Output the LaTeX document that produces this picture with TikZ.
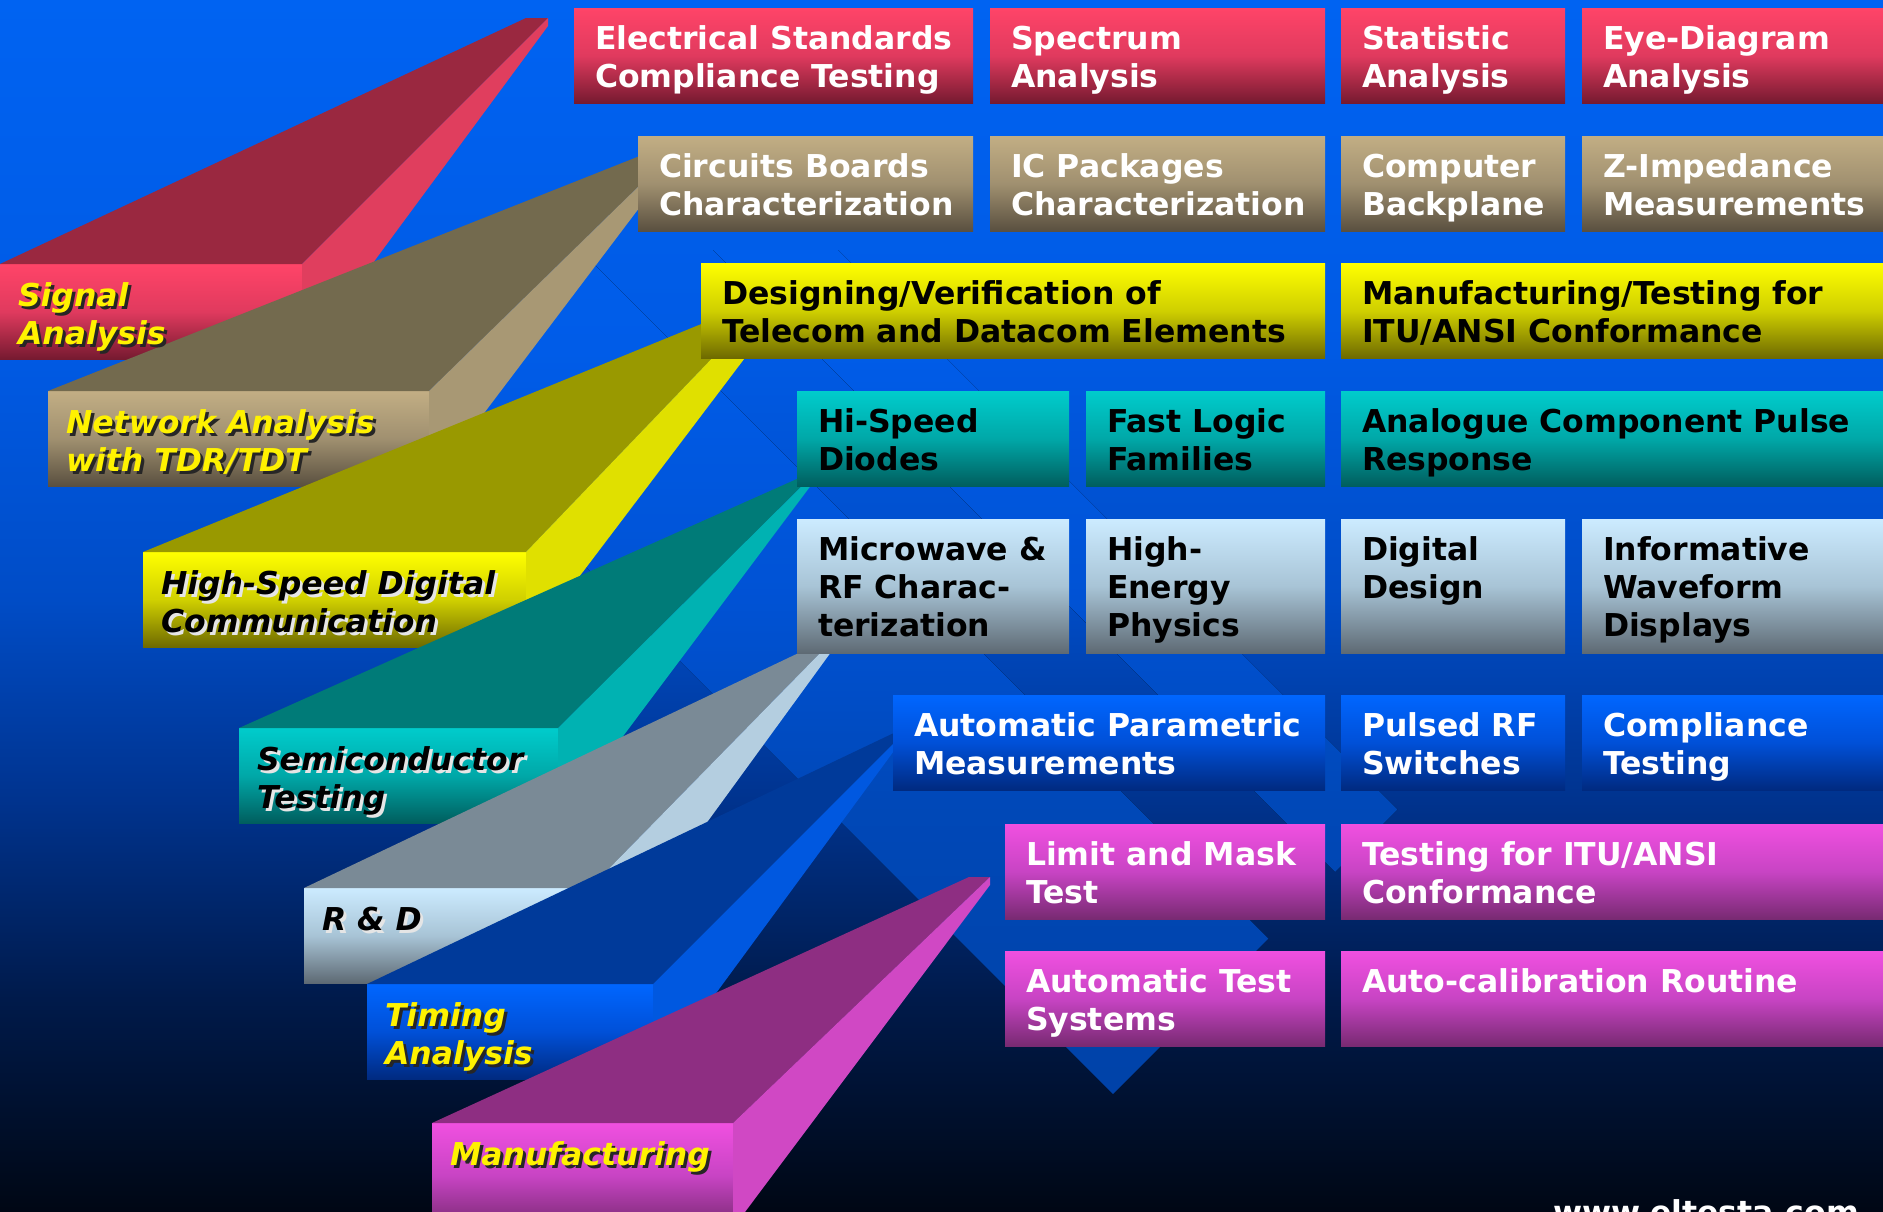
\documentclass[tikz,border=0pt]{standalone}
\usepackage{fontspec}
\setmainfont{DejaVu Sans}
\newcommand\tl[1]{\vtop{\halign{##\hfil\cr#1\crcr}}}
\definecolor{bgA}{HTML}{0063F2}
\definecolor{bgB}{HTML}{005AE4}
\definecolor{bgC}{HTML}{004CC6}
\definecolor{bgD}{HTML}{00338E}
\definecolor{bgE}{HTML}{001A4A}
\definecolor{bgF}{HTML}{000714}
\definecolor{stA}{HTML}{0063F2}
\definecolor{stB}{HTML}{005CE8}
\definecolor{stC}{HTML}{0052D4}
\definecolor{stD}{HTML}{0048B8}
\definecolor{stE}{HTML}{0044AC}
\definecolor{stF}{HTML}{0040A4}
\definecolor{redT}{HTML}{FF4468}\definecolor{redM}{HTML}{E03A5E}\definecolor{redB}{HTML}{761A30}
\definecolor{redTop}{HTML}{9A2840}\definecolor{redSide}{HTML}{E03E5E}
\definecolor{tanT}{HTML}{C2AE84}\definecolor{tanM}{HTML}{A09070}\definecolor{tanB}{HTML}{5A5040}
\definecolor{tanTop}{HTML}{736A4E}\definecolor{tanSide}{HTML}{A89874}
\definecolor{yelT}{HTML}{FFFF00}\definecolor{yelM}{HTML}{D0D000}\definecolor{yelB}{HTML}{6E6A00}
\definecolor{yelTop}{HTML}{999900}\definecolor{yelSide}{HTML}{E0E000}
\definecolor{tealT}{HTML}{00CCCC}\definecolor{tealM}{HTML}{00A8A8}\definecolor{tealB}{HTML}{005E5E}
\definecolor{tealTop}{HTML}{007B78}\definecolor{tealSide}{HTML}{00B2B2}
\definecolor{lbT}{HTML}{CCEBFF}\definecolor{lbM}{HTML}{A8C4D6}\definecolor{lbB}{HTML}{5E6A74}
\definecolor{lbTop}{HTML}{7A8A96}\definecolor{lbSide}{HTML}{B4CEE0}
\definecolor{blT}{HTML}{0066FF}\definecolor{blM}{HTML}{0050D8}\definecolor{blB}{HTML}{002A80}
\definecolor{blTop}{HTML}{003A9A}\definecolor{blSide}{HTML}{0058E0}
\definecolor{mgT}{HTML}{F050E0}\definecolor{mgM}{HTML}{C844C4}\definecolor{mgB}{HTML}{782A72}
\definecolor{mgTop}{HTML}{8E2E82}\definecolor{mgSide}{HTML}{D048C4}
\begin{document}
\begin{tikzpicture}[x=1pt,y=-1pt,
  box/.style={inner sep=0pt, outer sep=0pt, anchor=north west},
  redbox/.style={top color=redT, bottom color=redB, middle color=redM},
  tanbox/.style={top color=tanT, bottom color=tanB, middle color=tanM},
  yelbox/.style={top color=yelT, bottom color=yelB, middle color=yelM},
  tealbox/.style={top color=tealT, bottom color=tealB, middle color=tealM},
  lbbox/.style={top color=lbT, bottom color=lbB, middle color=lbM},
  blbox/.style={top color=blT, bottom color=blB, middle color=blM},
  mgbox/.style={top color=mgT, bottom color=mgB, middle color=mgM},
  rtxt/.style={inner sep=0pt, outer sep=0pt, anchor=base west, font=\fontsize{31.5}{38.4}\selectfont\bfseries},
  ltxt/.style={inner sep=0pt, outer sep=0pt, anchor=base west, font=\fontsize{31.5}{38.4}\selectfont\bfseries\itshape},
]
\newcommand\rbox[8]{%
  \node[box, #6, minimum width=#4-#2, minimum height=#5-#3] (#1) at (#2,#3) {};
  \node[rtxt, text=#7] (#1t) at ([shift={(21,41)}]#1.north west) {\tl{#8}};}
\newcommand\beamlabel[4]{% node, text colour, shadow colour, text
  \node[ltxt, text=#3] (#1s) at ([shift={(21,45)}]#1.north west) {\tl{#4}};
  \node[ltxt, text=#2] (#1l) at ([shift={(18,42)}]#1.north west) {\tl{#4}};}
\newcommand\bands[6]{%
  \fill[top color=#1, bottom color=#2] (0,-1) rectangle (1883,351);
  \fill[top color=#2, bottom color=#3] (0,350) rectangle (1883,601);
  \fill[top color=#3, bottom color=#4] (0,600) rectangle (1883,801);
  \fill[top color=#4, bottom color=#5] (0,800) rectangle (1883,1001);
  \fill[top color=#5, bottom color=#6] (0,1000) rectangle (1883,1212);}
\useasboundingbox (0,0) rectangle (1883,1211);
\clip (0,0) rectangle (1883,1211);
% background
\bands{bgA}{bgB}{bgC}{bgD}{bgE}{bgF}
% lighter diagonal bands of the background
\begin{scope}
  \clip (269,250) -- (580,250) -- (1268.5,938.5) -- (1113,1094) -- cycle
        (713,250) -- (838,250) -- (1397.5,809.5) -- (1335,872) -- cycle;
  \bands{stA}{stB}{stC}{stD}{stE}{stF}
\end{scope}

% ---- beams ----
% Signal Analysis
\coordinate (sigP) at (526,18); \coordinate (sigQ) at (548,18); \coordinate (sigR) at (548,26);
\node[box, redbox, minimum width=302, minimum height=95] (sig) at (0,264) {};
\fill[redTop] (sig.north west) -- (sig.north east) -- (sigQ) -- (sigP) -- cycle;
\fill[redSide] (sig.north east) -- (sigQ) -- (sigR) -- (sig.south east) -- cycle;
% Network Analysis
\coordinate (netP) at (680,140); \coordinate (netQ) at (684,142); \coordinate (netR) at (686,146);
\node[box, tanbox, minimum width=381, minimum height=95] (net) at (48,391) {};
\fill[tanTop] (net.north west) -- (net.north east) -- (netQ) -- (netP) -- cycle;
\fill[tanSide] (net.north east) -- (netQ) -- (netR) -- (net.south east) -- cycle;
% High-Speed Digital Communication
\coordinate (hsdP) at (765,298); \coordinate (hsdQ) at (768,300); \coordinate (hsdR) at (785,305);
\node[box, yelbox, minimum width=383, minimum height=95] (hsd) at (143,552) {};
\fill[yelTop] (hsd.north west) -- (hsd.north east) -- (hsdQ) -- (hsdP) -- cycle;
\fill[yelSide] (hsd.north east) -- (hsdQ) -- (hsdR) -- (hsd.south east) -- cycle;
% Semiconductor Testing
\coordinate (semP) at (808,474); \coordinate (semQ) at (812,476); \coordinate (semR) at (815,480);
\node[box, tealbox, minimum width=319, minimum height=95] (sem) at (239,728) {};
\fill[tealTop] (sem.north west) -- (sem.north east) -- (semQ) -- (semP) -- cycle;
\fill[tealSide] (sem.north east) -- (semQ) -- (semR) -- (sem.south east) -- cycle;
% R & D
\coordinate (rdP) at (826,640); \coordinate (rdQ) at (830,643); \coordinate (rdR) at (834,648);
\node[box, lbbox, minimum width=286, minimum height=95] (rd) at (304,888) {};
\fill[lbTop] (rd.north west) -- (rd.north east) -- (rdQ) -- (rdP) -- cycle;
\fill[lbSide] (rd.north east) -- (rdQ) -- (rdR) -- (rd.south east) -- cycle;
% Timing Analysis
\coordinate (timP) at (898,731); \coordinate (timQ) at (902,735); \coordinate (timR) at (902,740);
\node[box, blbox, minimum width=286, minimum height=95] (tim) at (367,984) {};
\fill[blTop] (tim.north west) -- (tim.north east) -- (timQ) -- (timP) -- cycle;
\fill[blSide] (tim.north east) -- (timQ) -- (timR) -- (tim.south east) -- cycle;
% Manufacturing
\coordinate (manP) at (969,877); \coordinate (manQ) at (990,877); \coordinate (manR) at (990,885);
\node[box, mgbox, minimum width=301, minimum height=105] (man) at (432,1123) {};
\fill[mgTop] (man.north west) -- (man.north east) -- (manQ) -- (manP) -- cycle;
\fill[mgSide] (man.north east) -- (manQ) -- (manR) -- (man.south east) -- cycle;

% beam labels
\beamlabel{sig}{yellow}{black!85}{Signal\cr Analysis}
\beamlabel{net}{yellow}{black!85}{Network Analysis\cr with TDR/TDT}
\beamlabel{hsd}{black}{white!80!gray}{High-Speed Digital\cr Communication}
\beamlabel{sem}{black}{white!80!gray}{Semiconductor\cr Testing}
\beamlabel{rd}{black}{white!80!gray}{R \& D}
\beamlabel{tim}{yellow}{black!85}{Timing\cr Analysis}
\beamlabel{man}{yellow}{black!85}{Manufacturing}

% ---- right-hand boxes ----
\rbox{A1}{574}{8}{973}{103}{redbox}{white}{Electrical Standards\cr Compliance Testing}
\rbox{A2}{990}{8}{1325}{103}{redbox}{white}{Spectrum\cr Analysis}
\rbox{A3}{1341}{8}{1565}{103}{redbox}{white}{Statistic\cr Analysis}
\rbox{A4}{1582}{8}{1883}{103}{redbox}{white}{Eye-Diagram\cr Analysis}
\rbox{B1}{638}{136}{973}{231}{tanbox}{white}{Circuits Boards\cr Characterization}
\rbox{B2}{990}{136}{1325}{231}{tanbox}{white}{IC Packages\cr Characterization}
\rbox{B3}{1341}{136}{1565}{231}{tanbox}{white}{Computer\cr Backplane}
\rbox{B4}{1582}{136}{1883}{231}{tanbox}{white}{Z-Impedance\cr Measurements}
\rbox{C1}{701}{263}{1325}{358}{yelbox}{black}{Designing/Verification of\cr Telecom and Datacom Elements}
\rbox{C2}{1341}{263}{1883}{358}{yelbox}{black}{Manufacturing/Testing for\cr ITU/ANSI Conformance}
\rbox{D1}{797}{391}{1069}{486}{tealbox}{black}{Hi-Speed\cr Diodes}
\rbox{D2}{1086}{391}{1325}{486}{tealbox}{black}{Fast Logic\cr Families}
\rbox{D3}{1341}{391}{1883}{486}{tealbox}{black}{Analogue Component Pulse\cr Response}
\rbox{E1}{797}{519}{1069}{653}{lbbox}{black}{Microwave \&\cr RF Charac-\cr terization}
\rbox{E2}{1086}{519}{1325}{653}{lbbox}{black}{High-\cr Energy\cr Physics}
\rbox{E3}{1341}{519}{1565}{653}{lbbox}{black}{Digital\cr Design}
\rbox{E4}{1582}{519}{1883}{653}{lbbox}{black}{Informative\cr Waveform\cr Displays}
\rbox{F1}{893}{695}{1325}{790}{blbox}{white}{Automatic Parametric\cr Measurements}
\rbox{F2}{1341}{695}{1565}{790}{blbox}{white}{Pulsed RF\cr Switches}
\rbox{F3}{1582}{695}{1883}{790}{blbox}{white}{Compliance\cr Testing}
\rbox{G1}{1005}{824}{1325}{919}{mgbox}{white}{Limit and Mask\cr Test}
\rbox{G2}{1341}{824}{1883}{919}{mgbox}{white}{Testing for ITU/ANSI\cr Conformance}
\rbox{H1}{1005}{951}{1325}{1046}{mgbox}{white}{Automatic Test\cr Systems}
\rbox{H2}{1341}{951}{1883}{1046}{mgbox}{white}{Auto-calibration Routine}

\node[rtxt, text=white] (url) at (1553,1223) {www.eltesta.com};
\end{tikzpicture}
\end{document}
